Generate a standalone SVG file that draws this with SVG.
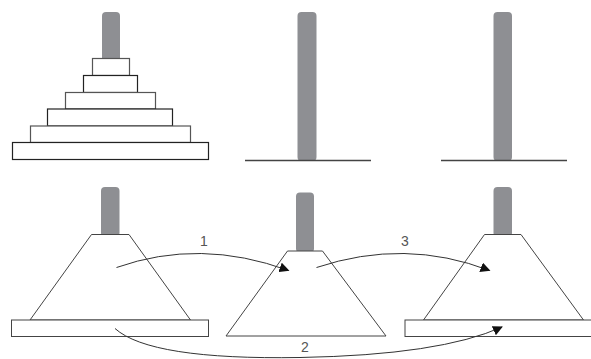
<svg xmlns="http://www.w3.org/2000/svg" width="591" height="359" viewBox="0 0 591 359">
<defs>
<style>
.peg{fill:#8e8f93}
.disk{fill:#fff;stroke:#555;stroke-width:1.2}
.dk{stroke:#222}
.shape{fill:#fff;stroke:#444;stroke-width:1}
.base{stroke:#444;stroke-width:1.4;fill:none}
.conn{fill:none;stroke:#333;stroke-width:1}
.lbl{font-family:"Liberation Sans",Arial,sans-serif;font-size:14px;fill:#555;text-anchor:middle}
</style>
<marker id="ah" viewBox="0 0 10 10" refX="9" refY="5" markerWidth="10" markerHeight="10" markerUnits="userSpaceOnUse" orient="auto">
<path d="M0,0 L10,5 L0,10 Z" fill="#111"/>
</marker>
</defs>
<rect width="591" height="359" fill="#fff"/>
<g id="tower-start">
<rect class="peg" x="102" y="12" width="18" height="50" rx="4"/>
<rect class="disk" x="92.5" y="58.5" width="37" height="17"/>
<rect class="disk dk" x="83.5" y="75.5" width="54" height="17"/>
<rect class="disk" x="65.5" y="92.5" width="90" height="16.5"/>
<rect class="disk dk" x="47.5" y="109" width="125" height="17"/>
<rect class="disk" x="30.5" y="126" width="160" height="16.5"/>
<rect class="disk dk" x="12.5" y="142.5" width="196" height="17"/>
</g>
<g id="peg-middle">
<rect class="peg" x="297.5" y="12" width="19" height="149" rx="4"/>
<line class="base" x1="245" y1="160.5" x2="371" y2="160.5"/>
</g>
<g id="peg-right">
<rect class="peg" x="493.5" y="12" width="18.5" height="149" rx="4"/>
<line class="base" x1="441" y1="160.5" x2="567" y2="160.5"/>
</g>
<g id="bottom-left">
<rect class="peg" x="101" y="187" width="18.5" height="50" rx="4"/>
<path class="shape" d="M91.5,234.5 L129,234.5 L190.5,320 L30,320 Z"/>
<rect class="shape" x="11.5" y="320" width="197" height="16.5"/>
</g>
<g id="bottom-middle">
<rect class="peg" x="296" y="192.5" width="18" height="60" rx="4"/>
<path class="shape" d="M287.5,251 L322.5,251 L386,336 L226,336 Z"/>
</g>
<g id="bottom-right">
<rect class="peg" x="493.5" y="187" width="18.5" height="50" rx="4"/>
<path class="shape" d="M484.5,234.5 L521,234.5 L583.5,320 L423.5,320 Z"/>
<rect class="shape" x="405" y="320" width="200" height="16.5"/>
</g>
<g id="connectors">
<path class="conn" d="M116.5,267.5 Q200,238 288.5,270.5" marker-end="url(#ah)"/>
<path class="conn" d="M316.5,267.5 Q405,238 489.5,270.5" marker-end="url(#ah)"/>
<path class="conn" d="M115,328.5 Q150,360 300,357.5 Q440,355 502,327" marker-end="url(#ah)"/>
<text class="lbl" x="204" y="246">1</text>
<text class="lbl" x="305" y="352">2</text>
<text class="lbl" x="405" y="246">3</text>
</g>
</svg>
